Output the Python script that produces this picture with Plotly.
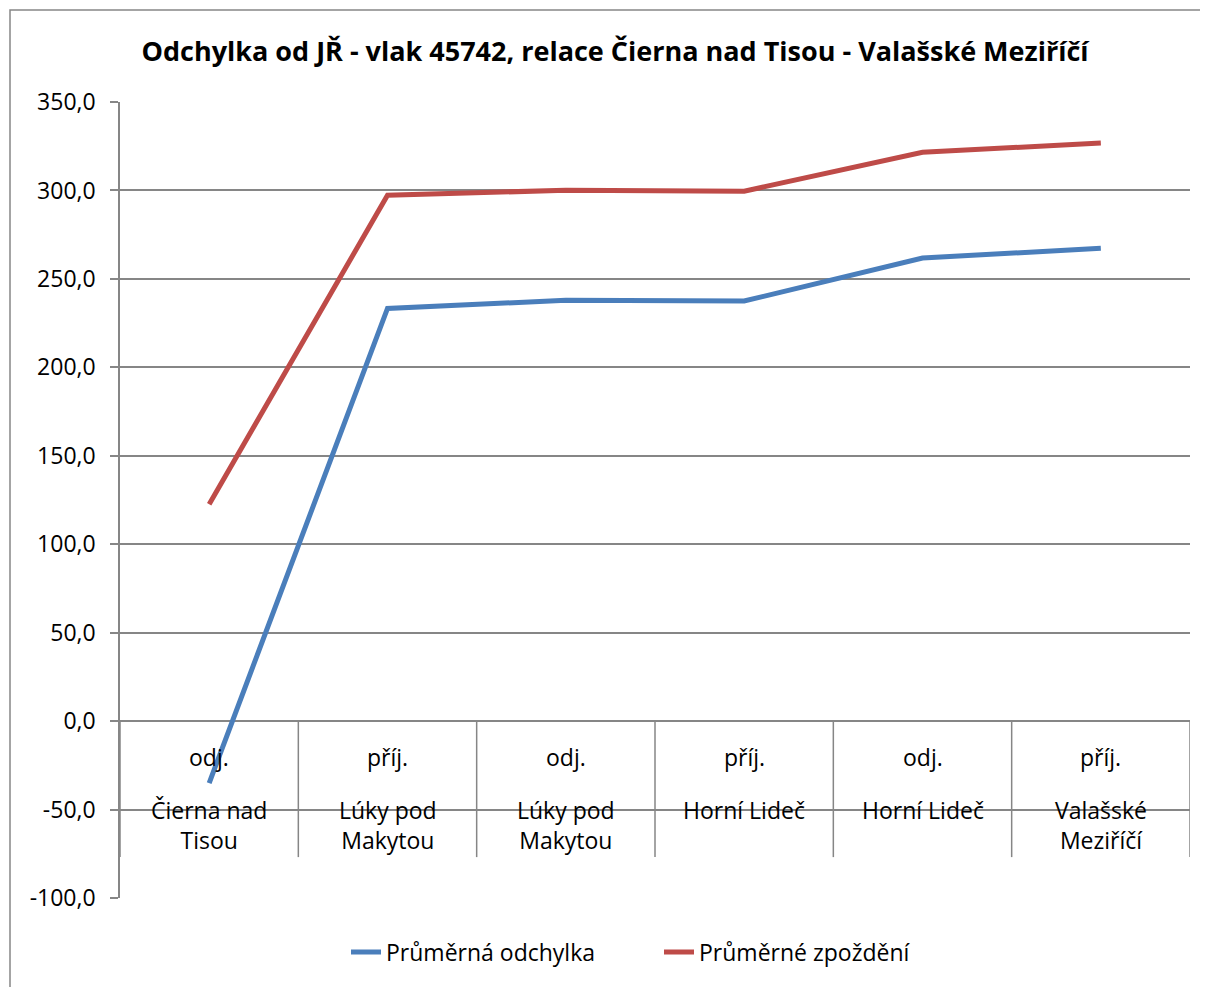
import plotly.graph_objects as go

# ---- data ----
kind_labels = ["odj.", "příj.", "odj.", "příj.", "odj.", "příj."]
station_labels = ["Čierna nad<br>Tisou", "Lúky pod<br>Makytou", "Lúky pod<br>Makytou",
                  "Horní Lideč", "Horní Lideč", "Valašské<br>Meziříčí"]
avg_deviation = [-35.0, 233.3, 237.9, 237.5, 261.8, 267.3]
avg_delay = [122.6, 297.3, 300.1, 299.6, 321.6, 326.8]
series_names = ["Průměrná odchylka", "Průměrné zpoždění"]
y_ticks = [-100, -50, 0, 50, 100, 150, 200, 250, 300, 350]
y_tick_text = [f"{v:.1f}".replace(".", ",") for v in y_ticks]

OFF = 8  # page body margin
W, H = 1208 - OFF, 987 - OFF
L, R, T, B = 120 - OFF, 18, 102 - OFF, 89
FONT = "Open Sans"
GRID = "#868686"

x_idx = list(range(len(kind_labels)))

fig = go.Figure()
fig.add_trace(go.Scatter(x=x_idx, y=avg_deviation, mode="lines", name=series_names[0],
                         line=dict(color="#4A7EBB", width=5)))
fig.add_trace(go.Scatter(x=x_idx, y=avg_delay, mode="lines", name=series_names[1],
                         line=dict(color="#BE4B48", width=5)))

plot_h = H - T - B
plot_w = W - L - R
units_per_px = (y_ticks[-1] - y_ticks[0]) / plot_h
sep_bottom = -136 * units_per_px
shapes = []
for k in range(len(kind_labels) + 1):
    shapes.append(dict(type="line", xref="x", yref="y", x0=k - 0.5, x1=k - 0.5,
                       y0=0, y1=sep_bottom, line=dict(color=GRID, width=1.5), layer="below"))
# outer chart border (page px -> paper)
def px_x(p):
    return (p - OFF - L) / plot_w
def px_y(p):
    return (H - B - (p - OFF)) / plot_h
shapes.append(dict(type="rect", xref="paper", yref="paper",
                   x0=px_x(10), x1=px_x(1203), y0=px_y(1000), y1=px_y(10),
                   line=dict(color=GRID, width=1.5), fillcolor="rgba(0,0,0,0)"))

annotations = []
for i, (k, s) in enumerate(zip(kind_labels, station_labels)):
    annotations.append(dict(x=i, y=0, xref="x", yref="y", text=k, showarrow=False,
                            yanchor="middle", yshift=-36,
                            font=dict(family=FONT, size=23, color="black")))
    annotations.append(dict(x=i, y=0, xref="x", yref="y", text=s, showarrow=False,
                            yanchor="top", yshift=-71,
                            font=dict(family=FONT, size=23, color="black")))

fig.update_layout(
    width=W, height=H,
    margin=dict(l=L, r=R, t=T, b=B),
    paper_bgcolor="white", plot_bgcolor="white",
    title=dict(text="<b>Odchylka od JŘ - vlak 45742, relace Čierna nad Tisou - Valašské Meziříčí</b>",
               x=(615 - OFF) / W, xref="container", xanchor="center",
               y=1 - (52 - OFF) / H, yref="container", yanchor="middle",
               font=dict(family=FONT, size=27, color="black")),
    xaxis=dict(range=[-0.5, len(kind_labels) - 0.5], showticklabels=False, showgrid=False,
               zeroline=False, showline=False, ticks=""),
    yaxis=dict(range=[y_ticks[0], y_ticks[-1]], tickvals=y_ticks, ticktext=y_tick_text,
               showgrid=True, gridcolor=GRID, gridwidth=1.5, zeroline=False,
               showline=True, linecolor=GRID, linewidth=1.5,
               ticks="outside", ticklen=8, tickcolor=GRID, tickwidth=1.5,
               ticklabelstandoff=10,
               tickfont=dict(family=FONT, size=23, color="black")),
    legend=dict(orientation="h", x=(346 - OFF) / W, xref="container", xanchor="left",
                y=1 - (952 - OFF) / H, yref="container", yanchor="middle",
                font=dict(family=FONT, size=23, color="black"),
                entrywidth=268, entrywidthmode="pixels", tracegroupgap=0),
    shapes=shapes,
    annotations=annotations,
    showlegend=True,
)

fig.write_html("out.html")
